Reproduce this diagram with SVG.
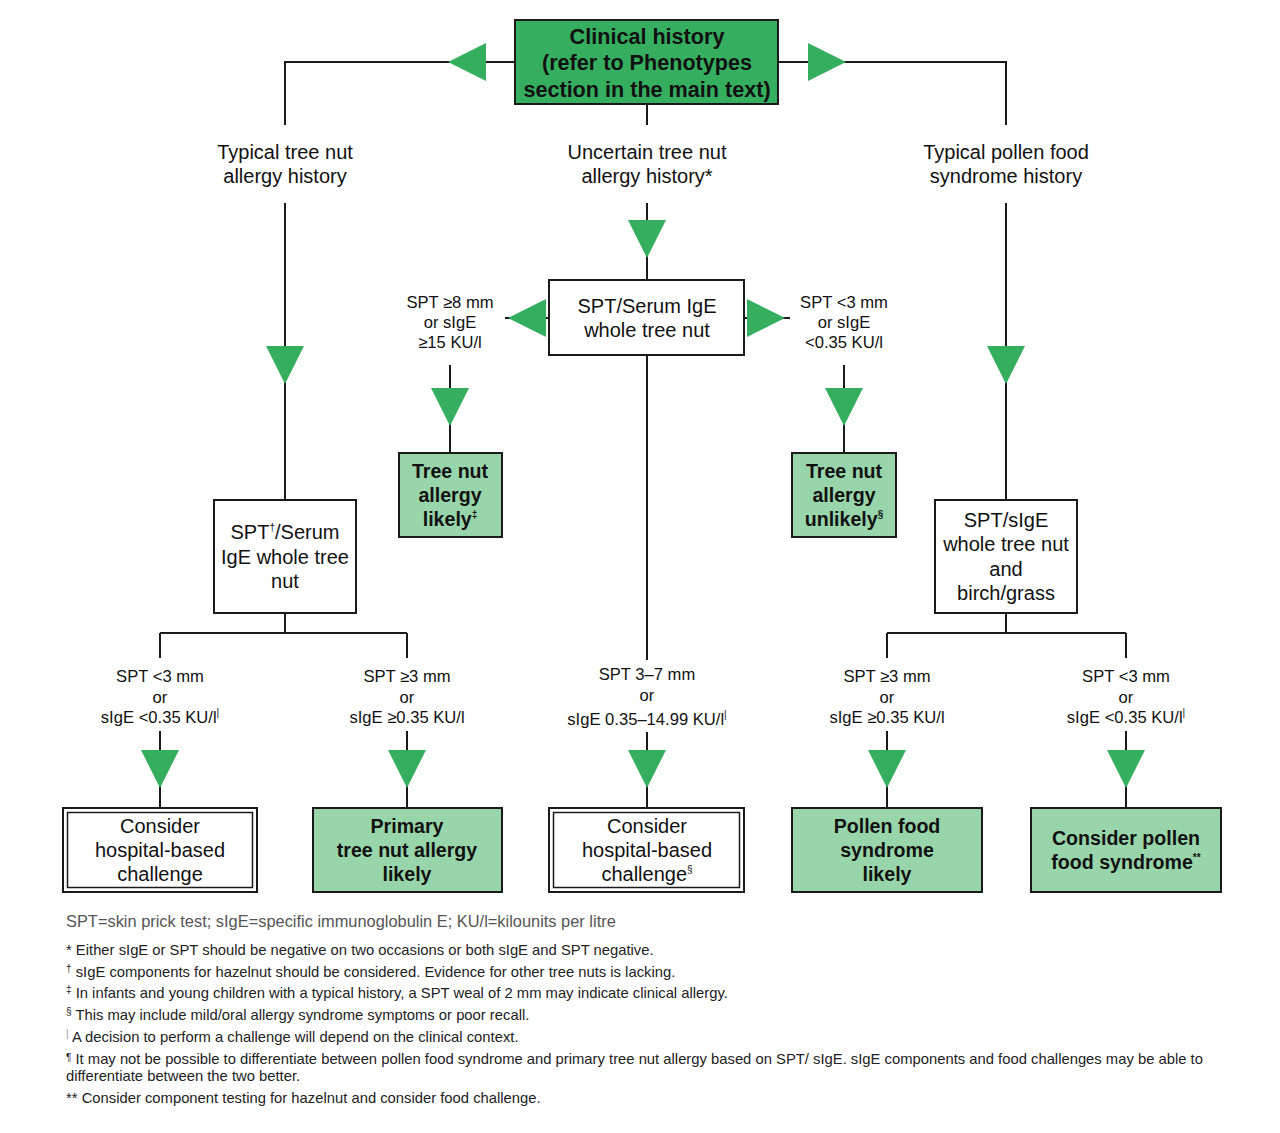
<svg xmlns="http://www.w3.org/2000/svg" width="1280" height="1133" viewBox="0 0 1280 1133">
<style>
text{font-family:"Liberation Sans",Arial,sans-serif;fill:#111;text-anchor:middle}
.t{font-size:20px}
.b{font-size:19.6px;font-weight:bold}
.h{font-size:21.6px;font-weight:bold}
.l{font-size:16.6px}
.f{font-size:14.8px;text-anchor:start;fill:#222}
.f0{font-size:16.4px;text-anchor:start;fill:#555}
.ln{stroke:#1a1a1a;stroke-width:2;fill:none}
.box{fill:#fff;stroke:#1a1a1a;stroke-width:2}
.dg{fill:#35ae5f;stroke:#1a1a1a;stroke-width:2}
.lg{fill:#98d5aa;stroke:#1a1a1a;stroke-width:2}
.ar{fill:#35ae5f}
.in{fill:none;stroke:#1a1a1a;stroke-width:1.5}
.s{font-size:10px}
</style>
<defs>
<polygon id="down" class="ar" points="-19,0 19,0 0,38"/>
<polygon id="left" class="ar" points="0,-19 0,19 -38,0"/>
<polygon id="right" class="ar" points="0,-19 0,19 38,0"/>
</defs>
<g id="connectors">
<path class="ln" d="M515,62 H285 V125 M778,62 H1006 V125 M647,104 V125"/>
<path class="ln" d="M285,203 V500 M647,203 V280 M1006,203 V500"/>
<path class="ln" d="M549,318 H505 M744,318 H790"/>
<path class="ln" d="M450,365 V453 M844,365 V453"/>
<path class="ln" d="M647,355 V660 M647,732 V808"/>
<path class="ln" d="M285,613 V633 M160,633 H407 M160,633 V658 M407,633 V658"/>
<path class="ln" d="M1006,613 V633 M887,633 H1126 M887,633 V658 M1126,633 V658"/>
<path class="ln" d="M160,731 V808 M407,731 V808 M887,731 V808 M1126,731 V808"/>
<use href="#left" x="486" y="62"/>
<use href="#right" x="808" y="62"/>
<use href="#down" x="647" y="220"/>
<use href="#down" x="285" y="346"/>
<use href="#down" x="1006" y="346"/>
<use href="#left" x="546" y="318"/>
<use href="#right" x="747" y="318"/>
<use href="#down" x="450" y="388"/>
<use href="#down" x="844" y="388"/>
<use href="#down" x="160" y="750"/>
<use href="#down" x="407" y="750"/>
<use href="#down" x="647" y="750"/>
<use href="#down" x="887" y="750"/>
<use href="#down" x="1126" y="750"/>
</g>
<g id="clinical-history">
<rect class="dg" x="515" y="20" width="263" height="84"/>
<text class="h" x="647" y="44">Clinical history</text>
<text class="h" x="647" y="70">(refer to Phenotypes</text>
<text class="h" x="647" y="97">section in the main text)</text>
</g>
<g id="typical-tree-nut">
<text class="t" x="285" y="159">Typical tree nut</text>
<text class="t" x="285" y="183">allergy history</text>
</g>
<g id="uncertain-tree-nut">
<text class="t" x="647" y="159">Uncertain tree nut</text>
<text class="t" x="647" y="183">allergy history*</text>
</g>
<g id="typical-pollen">
<text class="t" x="1006" y="159">Typical pollen food</text>
<text class="t" x="1006" y="183">syndrome history</text>
</g>
<g id="spt-serum-mid">
<rect class="box" x="549" y="280" width="195" height="75"/>
<text class="t" x="647" y="313">SPT/Serum IgE</text>
<text class="t" x="647" y="337">whole tree nut</text>
</g>
<g id="label-ge8">
<text class="l" x="450" y="308">SPT ≥8 mm</text>
<text class="l" x="450" y="328">or sIgE</text>
<text class="l" x="450" y="348">≥15 KU/l</text>
</g>
<g id="label-lt3-mid">
<text class="l" x="844" y="308">SPT &lt;3 mm</text>
<text class="l" x="844" y="328">or sIgE</text>
<text class="l" x="844" y="348">&lt;0.35 KU/l</text>
</g>
<g id="likely">
<rect class="lg" x="399" y="453" width="103" height="84"/>
<text class="b" x="450" y="478">Tree nut</text>
<text class="b" x="450" y="502">allergy</text>
<text class="b" x="450" y="526">likely<tspan class="s" dy="-8">‡</tspan></text>
</g>
<g id="unlikely">
<rect class="lg" x="792" y="453" width="104" height="84"/>
<text class="b" x="844" y="478">Tree nut</text>
<text class="b" x="844" y="502">allergy</text>
<text class="b" x="844" y="526">unlikely<tspan class="s" dy="-8">§</tspan></text>
</g>
<g id="spt-serum-left">
<rect class="box" x="214" y="500" width="142" height="113"/>
<text class="t" x="285" y="539">SPT<tspan class="s" dy="-8">†</tspan><tspan dy="8">/Serum</tspan></text>
<text class="t" x="285" y="564">IgE whole tree</text>
<text class="t" x="285" y="588">nut</text>
</g>
<g id="spt-sige-right">
<rect class="box" x="935" y="500" width="142" height="113"/>
<text class="t" x="1006" y="527">SPT/sIgE</text>
<text class="t" x="1006" y="551">whole tree nut</text>
<text class="t" x="1006" y="576">and</text>
<text class="t" x="1006" y="600">birch/grass</text>
</g>
<g id="label-left-lt3">
<text class="l" x="160" y="682">SPT &lt;3 mm</text>
<text class="l" x="160" y="703">or</text>
<text class="l" x="160" y="723">sIgE &lt;0.35 KU/l<tspan class="s" dy="-7">|</tspan></text>
</g>
<g id="label-left-ge3">
<text class="l" x="407" y="682">SPT ≥3 mm</text>
<text class="l" x="407" y="703">or</text>
<text class="l" x="407" y="723">sIgE ≥0.35 KU/l</text>
</g>
<g id="label-mid-37">
<text class="l" x="647" y="680">SPT 3–7 mm</text>
<text class="l" x="647" y="701">or</text>
<text class="l" x="647" y="725">sIgE 0.35–14.99 KU/l<tspan class="s" dy="-7">|</tspan></text>
</g>
<g id="label-right-ge3">
<text class="l" x="887" y="682">SPT ≥3 mm</text>
<text class="l" x="887" y="703">or</text>
<text class="l" x="887" y="723">sIgE ≥0.35 KU/l</text>
</g>
<g id="label-right-lt3">
<text class="l" x="1126" y="682">SPT &lt;3 mm</text>
<text class="l" x="1126" y="703">or</text>
<text class="l" x="1126" y="723">sIgE &lt;0.35 KU/l<tspan class="s" dy="-7">|</tspan></text>
</g>
<g id="challenge-left">
<rect class="box" x="63" y="808" width="194" height="84"/>
<rect class="in" x="67.5" y="812.5" width="185" height="75"/>
<text class="t" x="160" y="833">Consider</text>
<text class="t" x="160" y="857">hospital-based</text>
<text class="t" x="160" y="881">challenge</text>
</g>
<g id="primary">
<rect class="lg" x="313" y="808" width="189" height="84"/>
<text class="b" x="407" y="833">Primary</text>
<text class="b" x="407" y="857">tree nut allergy</text>
<text class="b" x="407" y="881">likely</text>
</g>
<g id="challenge-mid">
<rect class="box" x="549" y="808" width="195" height="84"/>
<rect class="in" x="553.5" y="812.5" width="186" height="75"/>
<text class="t" x="647" y="833">Consider</text>
<text class="t" x="647" y="857">hospital-based</text>
<text class="t" x="647" y="881">challenge<tspan class="s" dy="-8">§</tspan></text>
</g>
<g id="pollen-likely">
<rect class="lg" x="792" y="808" width="190" height="84"/>
<text class="b" x="887" y="833">Pollen food</text>
<text class="b" x="887" y="857">syndrome</text>
<text class="b" x="887" y="881">likely</text>
</g>
<g id="consider-pollen">
<rect class="lg" x="1031" y="808" width="190" height="84"/>
<text class="b" x="1126" y="845">Consider pollen</text>
<text class="b" x="1126" y="869">food syndrome<tspan class="s" dy="-8">**</tspan></text>
</g>
<g id="footnotes">
<text class="f0" x="66" y="927">SPT=skin prick test; sIgE=specific immunoglobulin E; KU/l=kilounits per litre</text>
<text class="f" x="66" y="955">* Either sIgE or SPT should be negative on two occasions or both sIgE and SPT negative.</text>
<text class="f" x="66" y="977"><tspan class="s" dy="-5">†</tspan><tspan dy="5"> sIgE components for hazelnut should be considered. Evidence for other tree nuts is lacking.</tspan></text>
<text class="f" x="66" y="998"><tspan class="s" dy="-5">‡</tspan><tspan dy="5"> In infants and young children with a typical history, a SPT weal of 2 mm may indicate clinical allergy.</tspan></text>
<text class="f" x="66" y="1020"><tspan class="s" dy="-5">§</tspan><tspan dy="5"> This may include mild/oral allergy syndrome symptoms or poor recall.</tspan></text>
<text class="f" x="66" y="1042"><tspan class="s" dy="-5" fill="#999">|</tspan><tspan dy="5">  A decision to perform a challenge will depend on the clinical context.</tspan></text>
<text class="f" x="66" y="1064"><tspan class="s" dy="-3">¶</tspan><tspan dy="3"> It may not be possible to differentiate between pollen food syndrome and primary tree nut allergy based on SPT/ sIgE. sIgE components and food challenges may be able to</tspan></text>
<text class="f" x="66" y="1081">differentiate between the two better.</text>
<text class="f" x="66" y="1103">** Consider component testing for hazelnut and consider food challenge.</text>
</g>
</svg>
